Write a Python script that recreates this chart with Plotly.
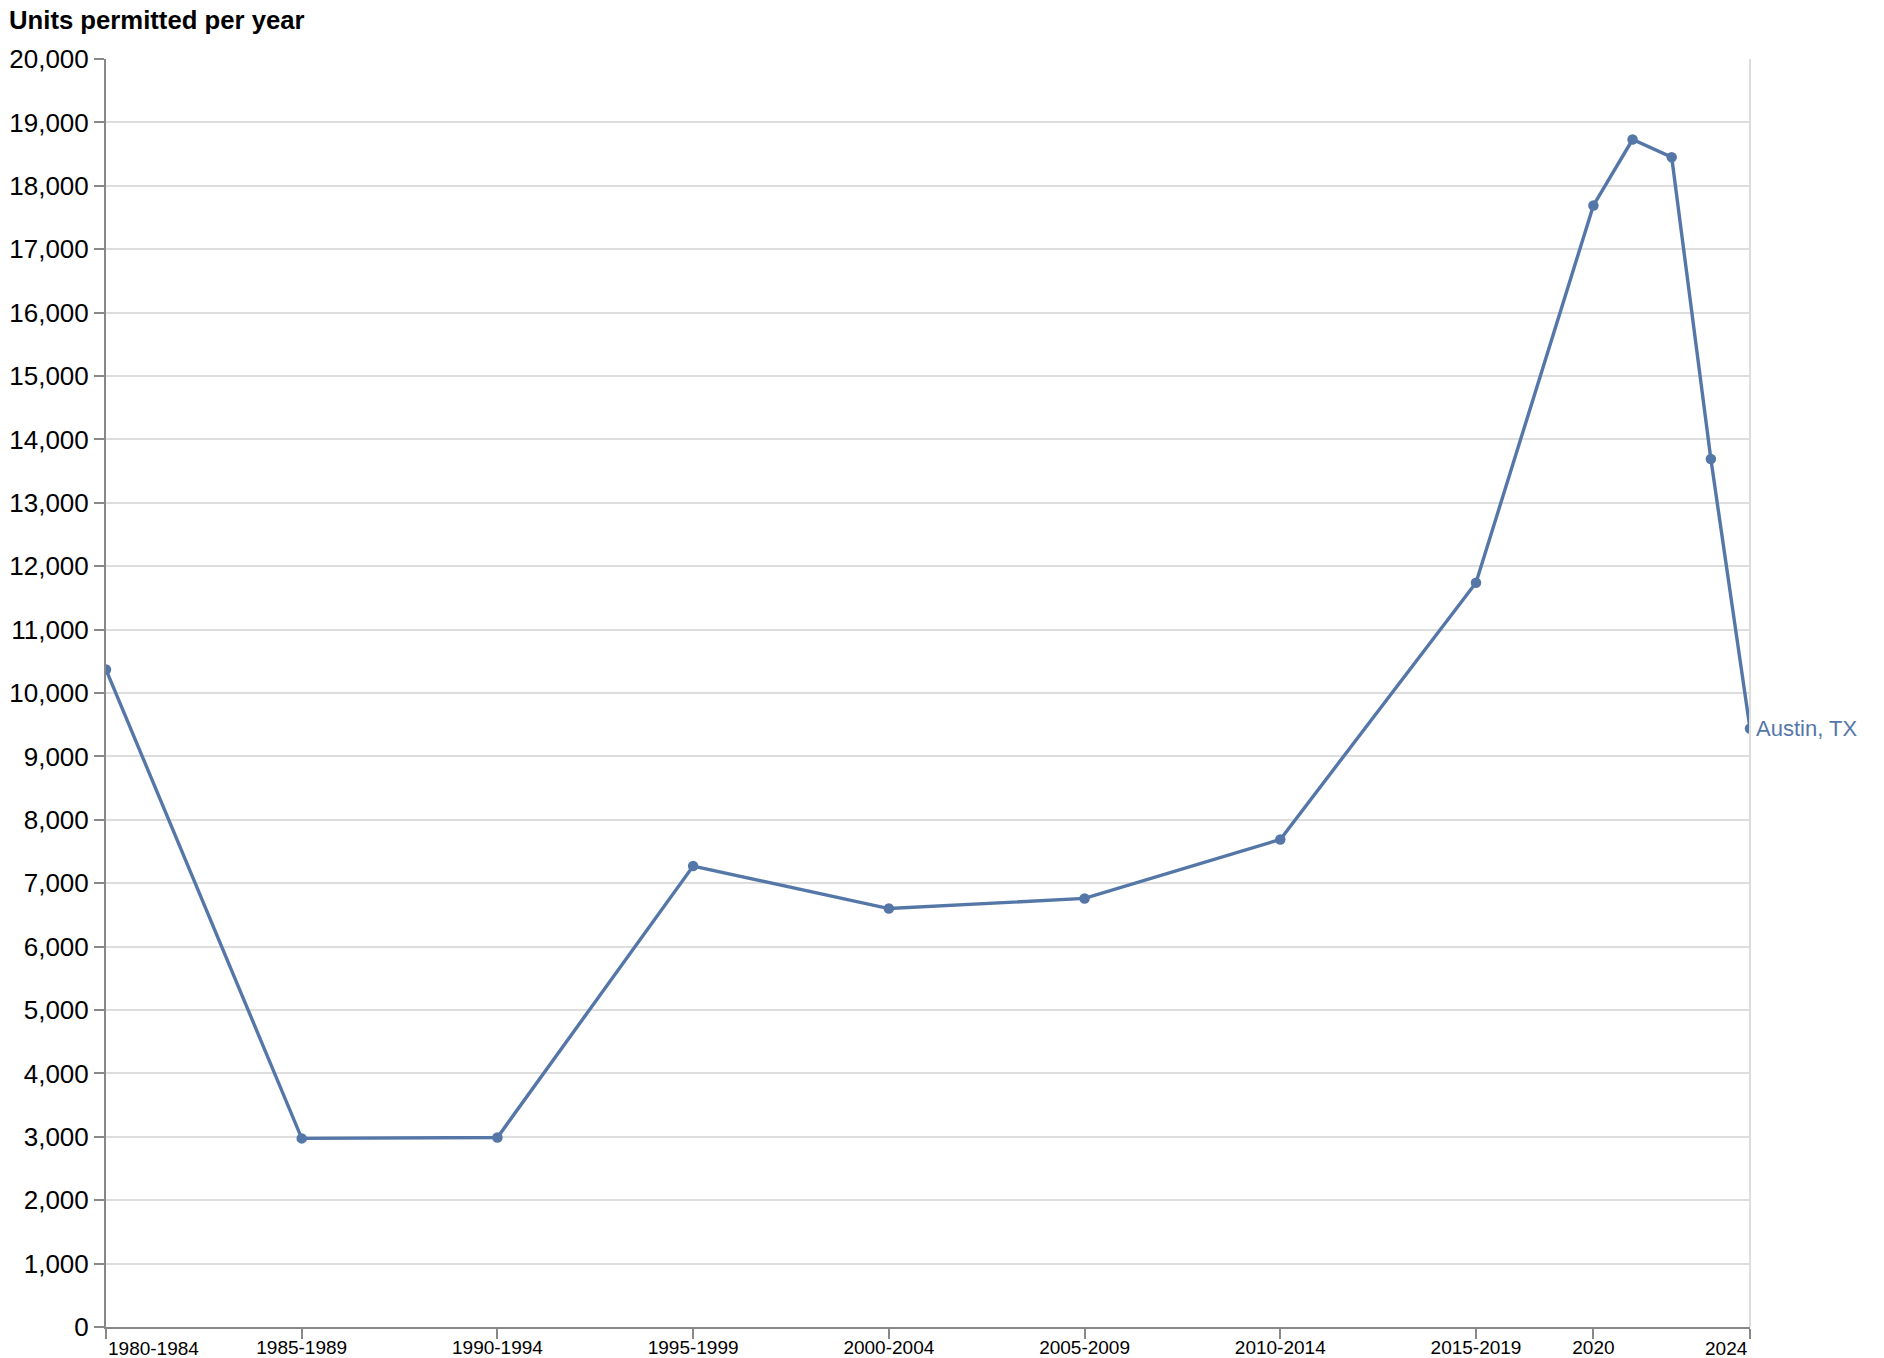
import plotly.graph_objects as go

# Data
periods = ["1980-1984", "1985-1989", "1990-1994", "1995-1999", "2000-2004",
           "2005-2009", "2010-2014", "2015-2019", "2020", "2021", "2022", "2023", "2024"]
x_pos = [1982, 1987, 1992, 1997, 2002, 2007, 2012, 2017, 2020, 2021, 2022, 2023, 2024]
units = [10370, 2975, 2990, 7270, 6600, 6760, 7690, 11740, 17690, 18730, 18450, 13690, 9440]
series_name = "Austin, TX"

tick_vals = [1982, 1987, 1992, 1997, 2002, 2007, 2012, 2017, 2020, 2024]
tick_text = ["", "1985-1989", "1990-1994", "1995-1999", "2000-2004",
             "2005-2009", "2010-2014", "2015-2019", "2020", ""]

y_ticks = list(range(0, 20001, 1000))

color = "#5577a8"
font = "Liberation Sans, Arial, Helvetica, sans-serif"

L, R, T, B = 106, 134, 59, 31
W, H = 1884, 1358
pw, ph = W - L - R, H - T - B

fig = go.Figure()
fig.add_trace(go.Scatter(
    x=x_pos, y=units, mode="lines+markers",
    line=dict(color=color, width=3.4),
    marker=dict(color=color, size=10.5),
    name=series_name, showlegend=False,
    hovertext=periods,
))

fig.update_layout(
    width=W, height=H,
    margin=dict(l=L, r=R, t=T, b=B),
    plot_bgcolor="white", paper_bgcolor="white",
    font=dict(family=font, color="black"),
    xaxis=dict(
        range=[1982, 2024], tickmode="array", tickvals=tick_vals, ticktext=tick_text,
        showgrid=False, zeroline=False, showline=True, linecolor="#888888", linewidth=2,
        ticks="outside", ticklen=10, tickwidth=2, tickcolor="#888888",
        tickfont=dict(size=19, color="black"), automargin=False,
        ticklabelstandoff=-8,
    ),
    yaxis=dict(
        range=[0, 20000], tickmode="array", tickvals=y_ticks,
        tickformat=",d",
        showgrid=True, gridcolor="#dddddd", gridwidth=1.5, zeroline=False,
        showline=True, linecolor="#888888", linewidth=2,
        ticks="outside", ticklen=10, tickwidth=2, tickcolor="#888888",
        tickfont=dict(size=26, color="black"), automargin=False,
    ),
    shapes=[dict(type="line", xref="paper", yref="paper", x0=1, x1=1, y0=0, y1=1,
                 line=dict(color="#dddddd", width=2))],
    annotations=[
        dict(text="<b>Units permitted per year</b>", xref="paper", yref="paper",
             x=-(L - 7) / pw, y=1 + (T - 4) / ph, xanchor="left", yanchor="top",
             showarrow=False, font=dict(size=25.7, color="black")),
        dict(text=periods[0], xref="x", yref="paper", x=x_pos[0], y=0,
             xanchor="left", yanchor="top", yshift=-9, showarrow=False,
             font=dict(size=19, color="black")),
        dict(text=periods[-1], xref="x", yref="paper", x=x_pos[-1], y=0,
             xanchor="right", yanchor="top", yshift=-9, showarrow=False,
             font=dict(size=19, color="black")),
        dict(text=series_name, xref="x", yref="y", x=x_pos[-1], y=units[-1],
             xanchor="left", yanchor="middle", xshift=4, showarrow=False,
             font=dict(size=22, color=color)),
    ],
)

fig.write_html(
    "out.html",
    config={"displayModeBar": False},
    post_script="document.body.style.margin='0px';document.body.style.overflow='hidden';",
)
